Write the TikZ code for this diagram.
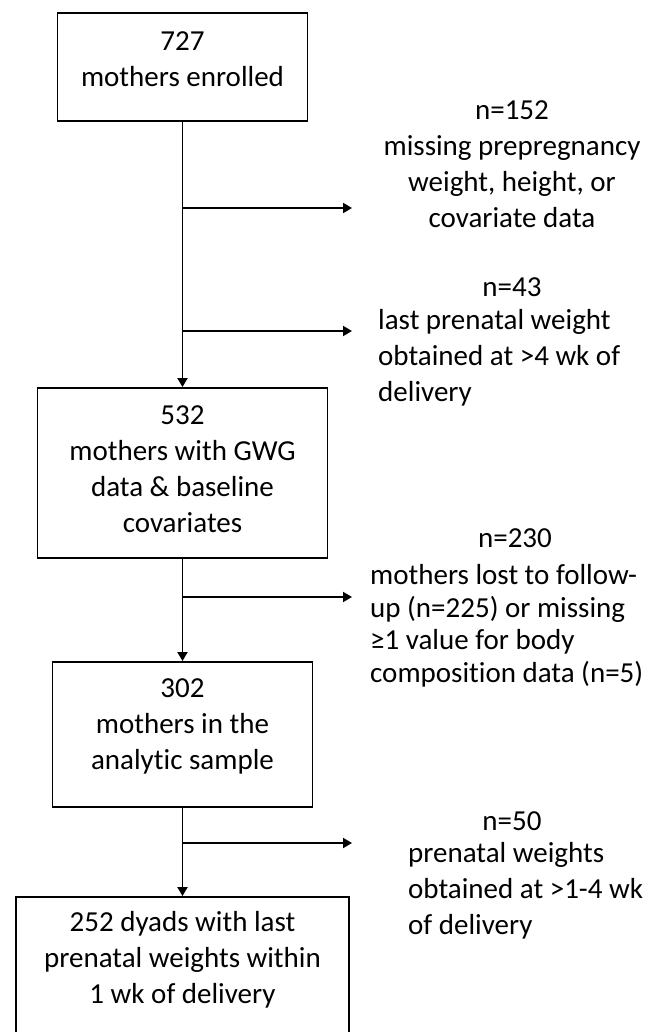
\documentclass[tikz,border=0pt]{standalone}
\usepackage{fontspec}
\setmainfont{Carlito}[Ligatures=NoCommon]
\usetikzlibrary{arrows.meta}
\begin{document}
\begin{tikzpicture}[x=1pt,y=-1pt,
  frame/.style={draw=black, line width=1.9pt, inner sep=0pt, fill=white},
  boxtext/.style={align=center, font=\fontsize{29}{36}\selectfont, inner sep=0pt},
  note/.style={align=left, font=\fontsize{29}{36}\selectfont, inner sep=0pt, anchor=west},
  count/.style={font=\fontsize{29}{36}\selectfont, inner sep=0pt},
  flow/.style={line width=1.9pt, -{Triangle[length=9pt,width=10pt]}},
  ]
\clip (0,0) rectangle (664,1032);
\fill[white] (0,0) rectangle (664,1032);

% main boxes
\node[frame, minimum width=250pt, minimum height=108pt] (b1) at (182.5,67) {};
\node[frame, minimum width=290pt, minimum height=170pt] (b2) at (182.5,473) {};
\node[frame, minimum width=260pt, minimum height=145pt] (b3) at (182.5,734.5) {};
\node[frame, minimum width=333pt, minimum height=143pt] (b4) at (182.5,968.5) {};

\node[boxtext] (t1) at (182.5,59) {727\\mothers enrolled};
\node[boxtext] (t2) at (182.5,469) {532\\mothers with GWG\\data \& baseline\\covariates};
\node[boxtext] (t3) at (182.5,726) {302\\mothers in the\\analytic sample};
\node[boxtext] (t4) at (182.5,960) {252 dyads with last\\prenatal weights within\\1 wk of delivery};

% exclusion notes
\node[boxtext] (r1) at (512,164) {n=152\\missing prepregnancy\\weight, height, or\\covariate data};
\node[count] (c2) at (512,287) {n=43};
\node[note] (r2) at (378,358) {last prenatal weight\\obtained at >4 wk of\\delivery};
\node[count] (c3) at (515,538) {n=230};
\node[note, font=\fontsize{29}{32.5}\selectfont] (r3) at (370,626) {mothers lost to follow-\\up (n=225) or missing\\≥1 value for body\\composition data (n=5)};
\node[count] (c4) at (512,821) {n=50};
\node[note] (r4) at (408,891) {prenatal weights\\obtained at >1-4 wk\\of delivery};

% connectors
\draw[flow] (b1.south) -- (b2.north);
\draw[flow] (b2.south) -- (b3.north);
\draw[flow] (b3.south) -- (b4.north);

\coordinate (j1) at (182.5,208); \coordinate (e1) at (352,208);
\coordinate (j2) at (182.5,331); \coordinate (e2) at (352,331);
\coordinate (j3) at (182.5,597); \coordinate (e3) at (352,597);
\coordinate (j4) at (182.5,843); \coordinate (e4) at (352,843);
\draw[flow] (j1) -- (e1);
\draw[flow] (j2) -- (e2);
\draw[flow] (j3) -- (e3);
\draw[flow] (j4) -- (e4);
\end{tikzpicture}
\end{document}
